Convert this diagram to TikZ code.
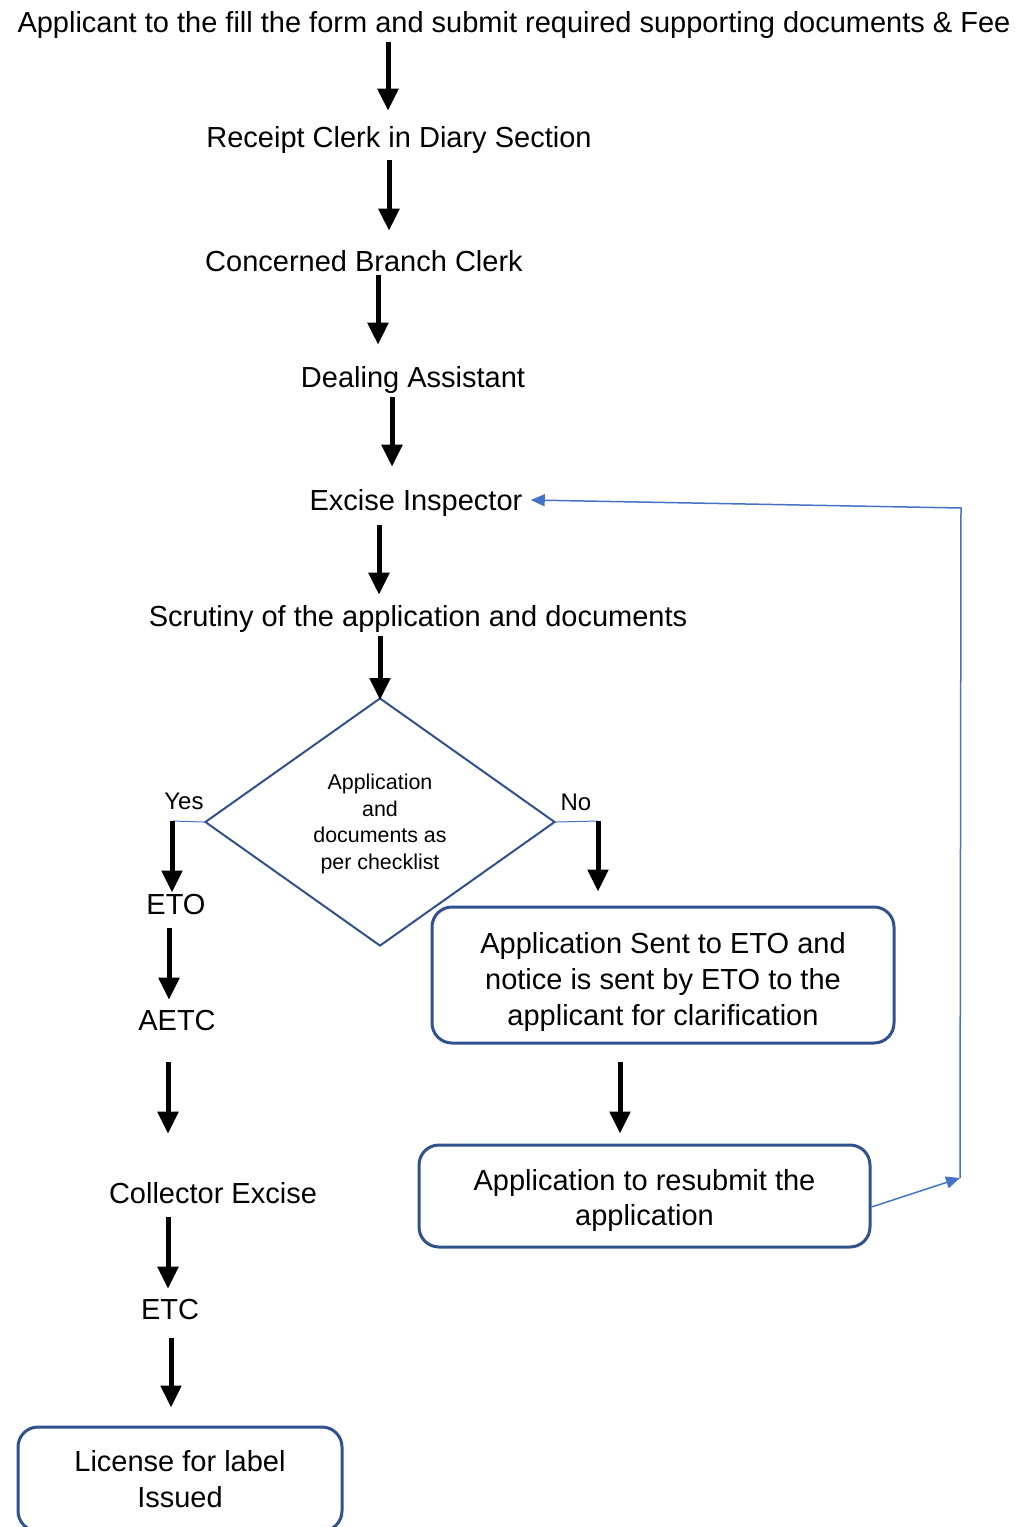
\documentclass[tikz,border=0pt]{standalone}
\usepackage{fontspec}
\setmainfont{Liberation Sans}
\definecolor{boxblue}{RGB}{47, 82, 143}
\definecolor{lineblue}{RGB}{68, 114, 196}
\usetikzlibrary{shapes.geometric, arrows.meta, positioning}

\begin{document}
\begin{tikzpicture}[x=0.5pt, y=-0.5pt,
    stage/.style={font=\fontsize{14.5}{18}\selectfont, text height=13.5pt, text depth=3pt, inner sep=3pt},
    roundbox/.style={draw=boxblue, line width=1.5pt, rounded corners=10pt, align=center, inner sep=0pt, font=\fontsize{14.5}{18}\selectfont},
    flow/.style={line width=2.5pt, -{Triangle[width=10pt, length=11pt]}},
    feedback/.style={draw=lineblue, line width=0.75pt},
    branchlbl/.style={font=\fontsize{12}{14}\selectfont}]
  \useasboundingbox (0,0) rectangle (1026,1527);

  % Main chain
  \node[stage] (applicant) at (514,22) {Applicant to the fill the form and submit required supporting documents \& Fee};
  \node[stage] (receipt) at (399,137) {Receipt Clerk in Diary Section};
  \node[stage] (branch) at (364,261) {Concerned Branch Clerk};
  \node[stage] (dealing) at (413,377) {Dealing Assistant};
  \node[stage] (inspector) at (416,500) {Excise Inspector};
  \node[stage] (scrutiny) at (418,616) {Scrutiny of the application and documents};

  % Decision
  \node[diamond, draw=boxblue, line width=1pt, minimum width=175pt, minimum height=124pt, inner sep=0pt, align=center, font=\fontsize{10.7}{13.3}\selectfont] (check) at (380,822) {\rule{0pt}{9.8pt}Application\\and\\documents as\\per checklist};
  \node[branchlbl] (yes) at (184,801) {Yes};
  \node[branchlbl] (no) at (576,802) {No};
  \coordinate (yesturn) at (172,821);
  \coordinate (noturn) at (598,821);

  % Yes branch
  \node[stage] (eto) at (176,904) {ETO};
  \node[stage] (aetc) at (177,1020) {AETC};
  \node[stage] (collector) at (213,1193) {Collector Excise};
  \node[stage] (etc) at (170,1309) {ETC};
  \node[roundbox, minimum width=162pt, minimum height=52pt] (license) at (180,1479) {License for label\\Issued};

  % No branch
  \node[roundbox, minimum width=231pt, minimum height=68pt] (notice) at (663,975) {\rule{0pt}{17pt}Application Sent to ETO and\\notice is sent by ETO to the\\applicant for clarification};
  \node[roundbox, minimum width=225.5pt, minimum height=51pt, font=\fontsize{14.5}{17.5}\selectfont] (resubmit) at (644.5,1196) {\rule{0pt}{14.5pt}Application to resubmit the\\application};
  \coordinate (fbturn) at (960,1178);
  \coordinate (fbtop) at (961,508);

  % Arrows
  \draw[flow, shorten <=-1.5pt, shorten >=1.7pt] (applicant.south -| 388,0) -- (receipt.north -| 388,0);
  \draw[flow, shorten <=0.2pt, shorten >=3.7pt] (receipt.south -| 389,0) -- (branch.north -| 389,0);
  \draw[flow, shorten <=-4.5pt, shorten >=4.7pt] (branch.south -| 378,0) -- (dealing.north -| 378,0);
  \draw[flow, shorten <=-1.5pt, shorten >=5.2pt] (dealing.south -| 392,0) -- (inspector.north -| 392,0);
  \draw[flow, shorten <=1.2pt, shorten >=-0.8pt] (inspector.south -| 379,0) -- (scrutiny.north -| 379,0);
  \draw[flow, shorten <=-1.5pt, shorten >=-1.5pt] (scrutiny.south -| check.north) -- (check.north);

  \draw[draw=lineblue, line width=0.5pt] (check.west) -- (yesturn);
  \draw[flow, shorten >=-5.7pt] (yesturn) -- (eto.north -| yesturn);
  \draw[flow, shorten <=0.7pt, shorten >=-1.3pt] (eto.south -| 169,0) -- (aetc.north -| 169,0);
  \draw[flow, shorten <=9.7pt, shorten >=18.2pt] (aetc.south -| 168,0) -- (collector.north -| 168,0);
  \draw[flow, shorten <=0.7pt, shorten >=-1.3pt] (collector.south -| 168,0) -- (etc.north -| 168,0);
  \draw[flow, shorten <=3.2pt, shorten >=9pt] (etc.south -| 171,0) -- (license.north -| 171,0);

  \draw[draw=lineblue, line width=0.5pt] (check.east) -- (noturn);
  \draw[flow, shorten >=7pt] (noturn) -- (notice.north -| noturn);
  \draw[flow, shorten <=8.5pt, shorten >=5pt] (notice.south -| 620,0) -- (resubmit.north -| 620,0);

  % Back to inspector
  \draw[feedback, -{Triangle[width=6pt, length=7pt]}] ([yshift=-5.5pt]resubmit.east) -- (fbturn);
  \draw[feedback, -{Triangle[width=6pt, length=7pt]}] (fbturn) -- (fbtop) -- ([xshift=1pt]inspector.east);
\end{tikzpicture}
\end{document}
